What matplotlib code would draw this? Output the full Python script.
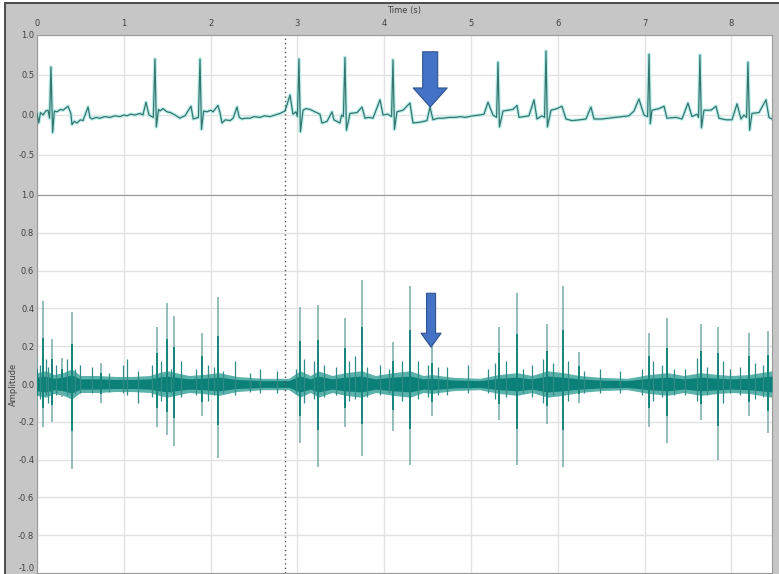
import numpy as np
import matplotlib
matplotlib.use("Agg")
import matplotlib.pyplot as plt
from matplotlib.patches import Rectangle

# ---- top trace: raw ECG, vertices (time s, amplitude)
ecg_t = [0.00, 0.02, 0.04, 0.07, 0.10, 0.127, 0.145, 0.161, 0.18, 0.20, 0.23, 0.27, 0.30, 0.357,
         0.39, 0.403, 0.43, 0.46, 0.50, 0.53, 0.588, 0.61, 0.634, 0.68, 0.726, 0.78, 0.84, 0.90,
         0.956, 1.00, 1.037, 1.08, 1.13, 1.187, 1.22, 1.256, 1.29, 1.34, 1.359, 1.375, 1.40, 1.417,
         1.45, 1.498, 1.54, 1.59, 1.647, 1.68, 1.705, 1.774, 1.80, 1.86, 1.878, 1.895, 1.92, 1.959,
         2.00, 2.028, 2.085, 2.11, 2.131, 2.17, 2.224, 2.26, 2.304, 2.33, 2.362, 2.40, 2.454, 2.50,
         2.569, 2.62, 2.684, 2.74, 2.80, 2.857, 2.915, 2.949, 2.984, 3.00, 3.018, 3.035, 3.065, 3.10,
         3.145, 3.203, 3.26, 3.283, 3.341, 3.399, 3.42, 3.49, 3.51, 3.53, 3.548, 3.565, 3.606, 3.687,
         3.744, 3.779, 3.82, 3.871, 3.952, 3.986, 4.04, 4.085, 4.101, 4.118, 4.147, 4.217, 4.297,
         4.332, 4.412, 4.493, 4.528, 4.562, 4.62, 4.677, 4.75, 4.816, 4.88, 4.931, 5.023, 5.104,
         5.15, 5.196, 5.253, 5.295, 5.311, 5.328, 5.369, 5.43, 5.484, 5.53, 5.553, 5.61, 5.668,
         5.726, 5.76, 5.818, 5.848, 5.864, 5.88, 5.922, 5.991, 6.048, 6.094, 6.164, 6.256, 6.325,
         6.382, 6.417, 6.509, 6.58, 6.659, 6.74, 6.82, 6.878, 6.935, 6.993, 7.035, 7.051, 7.066,
         7.085, 7.166, 7.224, 7.258, 7.362, 7.431, 7.50, 7.546, 7.604, 7.622, 7.638, 7.655, 7.684,
         7.765, 7.823, 7.857, 7.938, 8.007, 8.065, 8.111, 8.145, 8.175, 8.191, 8.21, 8.237, 8.318,
         8.399, 8.433, 8.468]
ecg_v = [0.02, -0.10, 0.03, 0.00, 0.05, 0.06, -0.04, 0.60, -0.22, 0.05, 0.04, 0.07, 0.06, 0.11,
         0.02, -0.12, -0.08, -0.10, -0.06, -0.07, 0.10, -0.03, -0.05, -0.03, -0.04, -0.02, -0.03, -0.01,
         -0.02, 0.00, -0.01, 0.01, 0.00, 0.02, 0.00, 0.16, 0.00, -0.03, 0.70, -0.15, 0.07, 0.05,
         0.08, 0.04, 0.03, 0.00, -0.04, -0.02, -0.01, 0.11, -0.05, -0.03, 0.70, -0.18, 0.05, 0.04,
         0.06, 0.04, 0.12, 0.02, -0.10, -0.06, -0.07, -0.04, 0.10, -0.03, -0.05, -0.04, -0.04, -0.02,
         -0.03, -0.01, -0.02, 0.00, 0.02, 0.05, 0.25, 0.01, 0.04, -0.02, 0.70, -0.21, 0.06, 0.08,
         0.07, 0.04, 0.01, -0.10, -0.08, 0.04, -0.06, -0.10, 0.00, -0.02, 0.72, -0.19, 0.02, 0.03,
         0.10, -0.04, -0.03, -0.04, 0.19, 0.00, 0.01, -0.02, 0.69, -0.18, 0.04, 0.06, 0.15,
         -0.10, -0.09, -0.07, 0.10, -0.06, -0.04, -0.04, -0.03, -0.03, -0.02, -0.03, -0.01, 0.00,
         0.01, 0.16, 0.00, -0.03, 0.66, -0.15, 0.05, 0.06, 0.07, 0.12, -0.03, -0.02, -0.01,
         0.19, -0.05, -0.01, -0.03, 0.80, -0.15, 0.06, 0.08, 0.11, -0.05, -0.07, -0.06, -0.05,
         0.10, -0.05, -0.05, -0.04, -0.03, -0.02, -0.01, 0.05, 0.20, 0.00, -0.02, 0.76, -0.11,
         0.06, 0.08, 0.11, -0.04, -0.03, -0.05, 0.15, -0.02, 0.01, -0.03, 0.75, -0.16, 0.06,
         0.06, 0.11, -0.04, -0.06, -0.06, 0.14, -0.05, 0.00, -0.03, 0.66, -0.19, 0.02, 0.03,
         0.19, -0.03, -0.05]

# ---- bottom trace: filtered signal, main spikes (time, top, bottom)
spike_t = [0.00, 0.07, 0.17, 0.29, 0.40, 0.74, 1.38, 1.50, 1.58, 1.90, 2.09, 3.03, 3.24, 3.55,
           3.74, 4.10, 4.30, 4.55, 5.32, 5.53, 5.88, 6.06, 6.24, 7.05, 7.26, 7.65, 7.85, 8.20, 8.42]
spike_hi = [0.14, 0.44, 0.24, 0.14, 0.38, 0.11, 0.30, 0.43, 0.36, 0.27, 0.46, 0.41, 0.42, 0.35,
            0.55, 0.22, 0.52, 0.20, 0.30, 0.48, 0.32, 0.52, 0.17, 0.27, 0.35, 0.32, 0.30, 0.27, 0.28]
spike_lo = [-0.12, -0.23, -0.20, -0.07, -0.45, -0.10, -0.23, -0.27, -0.33, -0.17, -0.39, -0.31,
            -0.44, -0.23, -0.38, -0.25, -0.43, -0.17, -0.19, -0.43, -0.21, -0.44, -0.10, -0.23,
            -0.31, -0.19, -0.40, -0.17, -0.26]

# smaller spikes
small_t = [0.04, 0.10, 0.13, 0.22, 0.35, 0.44, 0.50, 0.63, 0.83, 0.99, 1.04, 1.16, 1.33, 1.43,
           1.54, 1.66, 1.83, 1.97, 2.04, 2.14, 2.28, 2.45, 2.57, 2.77, 2.98, 3.08, 3.19, 3.31,
           3.45, 3.60, 3.66, 3.80, 3.95, 4.05, 4.20, 4.39, 4.50, 4.62, 4.72, 4.97, 5.20, 5.28,
           5.40, 5.60, 5.70, 5.83, 5.95, 6.12, 6.30, 6.49, 6.72, 6.97, 7.10, 7.20, 7.34, 7.47,
           7.60, 7.72, 7.90, 7.98, 8.10, 8.27, 8.36]
small_hi = [0.10, 0.13, 0.09, 0.10, 0.13, 0.08, 0.10, 0.09, 0.06, 0.10, 0.13, 0.07, 0.10, 0.12,
            0.08, 0.12, 0.08, 0.10, 0.09, 0.07, 0.12, 0.06, 0.08, 0.07, 0.08, 0.13, 0.12, 0.10,
            0.09, 0.12, 0.15, 0.09, 0.10, 0.08, 0.12, 0.12, 0.10, 0.09, 0.09, 0.10, 0.08, 0.11,
            0.12, 0.08, 0.10, 0.13, 0.11, 0.12, 0.07, 0.08, 0.07, 0.08, 0.12, 0.10, 0.08, 0.08,
            0.14, 0.09, 0.12, 0.08, 0.09, 0.11, 0.10]
small_lo = [-0.08, -0.06, -0.10, -0.06, -0.06, -0.05, -0.05, -0.05, -0.04, -0.05, -0.06, -0.10,
            -0.07, -0.09, -0.05, -0.07, -0.06, -0.09, -0.06, -0.05, -0.06, -0.04, -0.05, -0.05,
            -0.05, -0.10, -0.08, -0.07, -0.06, -0.09, -0.08, -0.07, -0.06, -0.05, -0.09, -0.08,
            -0.07, -0.06, -0.06, -0.05, -0.05, -0.08, -0.07, -0.05, -0.07, -0.10, -0.06, -0.09,
            -0.05, -0.05, -0.05, -0.06, -0.09, -0.07, -0.06, -0.06, -0.09, -0.06, -0.10, -0.05,
            -0.06, -0.08, -0.07]

# noise band half width along time
band_t = [0.0, 0.1, 0.2, 0.3, 0.4, 0.5, 0.7, 0.9, 1.1, 1.3, 1.4, 1.5, 1.6, 1.75, 1.9, 2.1, 2.3,
          2.6, 2.9, 3.03, 3.15, 3.24, 3.4, 3.55, 3.74, 3.9, 4.1, 4.3, 4.45, 4.55, 4.8, 5.1, 5.32,
          5.53, 5.7, 5.88, 6.06, 6.25, 6.5, 6.8, 7.05, 7.26, 7.45, 7.65, 7.85, 8.0, 8.2, 8.468]
band_w = [0.06, 0.07, 0.05, 0.06, 0.08, 0.045, 0.045, 0.04, 0.04, 0.045, 0.06, 0.07, 0.06, 0.045,
          0.05, 0.06, 0.04, 0.03, 0.03, 0.07, 0.045, 0.07, 0.045, 0.06, 0.07, 0.045, 0.06, 0.07,
          0.045, 0.05, 0.035, 0.03, 0.05, 0.06, 0.045, 0.07, 0.06, 0.045, 0.035, 0.03, 0.05, 0.06,
          0.045, 0.06, 0.05, 0.045, 0.05, 0.07]

x_ticks = [0, 1, 2, 3, 4, 5, 6, 7, 8]
marker_time = 2.857
# arrows: (time, tail amplitude, tip amplitude)
arrow_top = (4.53, 0.79, 0.10)
arrow_bot = (4.54, 0.48, 0.195)

W, H = 779, 574
fig = plt.figure(figsize=(W / 100, H / 100), dpi=100)
fig.patch.set_facecolor("white")
fig.add_artist(Rectangle((5 / W, -0.01), 1.0, (H - 2.5) / H + 0.01, transform=fig.transFigure,
                         fc="#c6c6c6", ec="#4a4a4a", lw=1.4, zorder=0))

left, right = 37 / W, 772 / W
ax1 = fig.add_axes([left, (H - 195) / H, right - left, 160 / H])
ax2 = fig.add_axes([left, 1 / H, right - left, 378 / H])

tick_col = "#404040"
for ax in (ax1, ax2):
    ax.set_facecolor("white")
    ax.set_xlim(0, ecg_t[-1])
    ax.set_ylim(-1, 1)
    ax.set_xticks(x_ticks)
    ax.grid(True, color="#e2e2e2", lw=1.0)
    ax.set_axisbelow(True)
    ax.tick_params(length=0, labelsize=6, colors=tick_col, pad=2)
    for s in ax.spines.values():
        s.set_color("#9a9a9a")
        s.set_linewidth(0.8)
    ax.axvline(marker_time, color="#555555", lw=1.0, ls=(0, (1, 2.2)), zorder=5)

# top panel
ax1.xaxis.tick_top()
ax1.tick_params(axis="x", pad=5)
ax1.set_yticks([1.0, 0.5, 0.0, -0.5, -1.0])
ax1.set_yticklabels(["1.0", "0.5", "0.0", "-0.5", ""])
ax1.plot(ecg_t, ecg_v, color="#bdeeec", lw=2.6, solid_joinstyle="round", zorder=2)
ax1.plot(ecg_t, ecg_v, color="#35766f", lw=0.9, zorder=3)
fig.text((left + right) / 2, (H - 10) / H, "Time (s)", ha="center", va="center",
         fontsize=6, color=tick_col)

# bottom panel
yt2 = np.round(np.arange(1.0, -1.01, -0.2), 1)
ax2.set_xticklabels([])
ax2.set_yticks(yt2)
ax2.set_yticklabels([f"{v:.1f}" for v in yt2])
ax2.get_yticklabels()[-1].set_va("bottom")
bw = np.array(band_w)
ax2.fill_between(band_t, -bw, bw, color="#3ea59d", alpha=0.85, lw=0, zorder=2)
ax2.fill_between(band_t, -bw * 0.6, bw * 0.6, color="#0b8078", lw=0, zorder=3)
ax2.vlines(small_t, small_lo, small_hi, color="#2f8d86", lw=0.9, zorder=3)
ax2.vlines(spike_t, spike_lo, spike_hi, color="#76aca7", lw=1.1, zorder=4)
ax2.vlines(spike_t, np.array(spike_lo) * 0.55, np.array(spike_hi) * 0.55, color="#0d8178",
           lw=1.3, zorder=4)
fig.text(13 / W, (H - 384) / H, "Amplitude", rotation=90, ha="center", va="center",
         fontsize=6, color=tick_col)

# blue arrows
ax1.annotate("", xy=(arrow_top[0], arrow_top[2]), xytext=(arrow_top[0], arrow_top[1]),
             arrowprops=dict(arrowstyle="simple,head_length=1.37,head_width=2.45,tail_width=1.08",
                             mutation_scale=10, fc="#4472c4", ec="#2f528f", lw=0.8,
                             shrinkA=0, shrinkB=0), zorder=6)
ax2.annotate("", xy=(arrow_bot[0], arrow_bot[2]), xytext=(arrow_bot[0], arrow_bot[1]),
             arrowprops=dict(arrowstyle="simple,head_length=1.0,head_width=1.44,tail_width=0.65",
                             mutation_scale=10, fc="#4472c4", ec="#2f528f", lw=0.8,
                             shrinkA=0, shrinkB=0), zorder=6)

fig.savefig("out.png", dpi=100, facecolor=fig.get_facecolor())
